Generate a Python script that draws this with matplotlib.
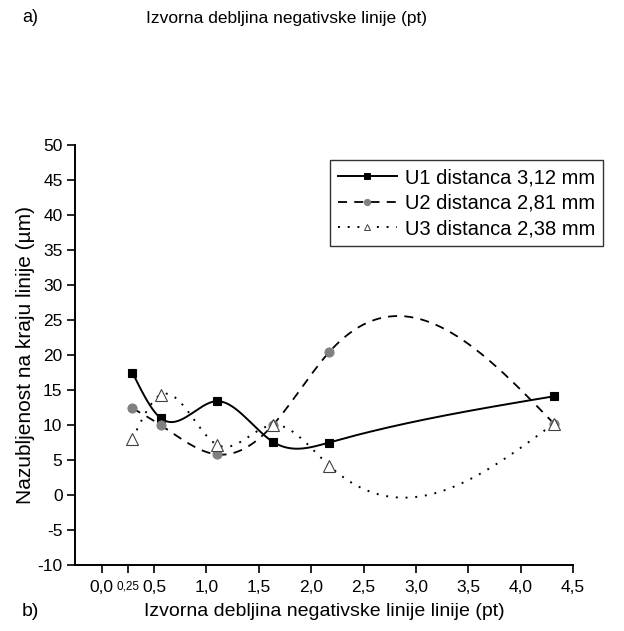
import numpy as np
import matplotlib
matplotlib.use("Agg")
import matplotlib.pyplot as plt

plt.rcParams['font.family'] = ['Liberation Sans', 'DejaVu Sans']

x_vals = [0.25, 0.5, 1.0, 1.5, 2.0, 4.0]
u1 = [17.5, 11.0, 13.4, 7.6, 7.5, 14.1]
u2 = [12.4, 10.0, 5.8, 10.0, 20.4, 10.2]
u3 = [8.0, 14.3, 7.2, 10.0, 4.2, 10.2]
labels = ["U1 distanca 3,12 mm", "U2 distanca 2,81 mm", "U3 distanca 2,38 mm"]
xticks = [0.0, 0.25, 0.5, 1.0, 1.5, 2.0, 2.5, 3.0, 3.5, 4.0, 4.5]
xticklabels = ["0,0", "0,25", "0,5", "1,0", "1,5", "2,0", "2,5", "3,0", "3,5", "4,0", "4,5"]
yticks = list(range(-10, 55, 5))


def natural_spline(x, y, n=400):
    x = np.asarray(x, float)
    y = np.asarray(y, float)
    m = len(x)
    h = np.diff(x)
    A = np.zeros((m, m))
    b = np.zeros(m)
    A[0, 0] = 1
    A[-1, -1] = 1
    for i in range(1, m - 1):
        A[i, i - 1] = h[i - 1]
        A[i, i] = 2 * (h[i - 1] + h[i])
        A[i, i + 1] = h[i]
        b[i] = 3 * ((y[i + 1] - y[i]) / h[i] - (y[i] - y[i - 1]) / h[i - 1])
    c = np.linalg.solve(A, b)
    xs = np.linspace(x[0], x[-1], n)
    ys = np.empty_like(xs)
    for k, xv in enumerate(xs):
        i = min(np.searchsorted(x, xv, side='right') - 1, m - 2)
        dx = xv - x[i]
        bi = (y[i + 1] - y[i]) / h[i] - h[i] * (2 * c[i] + c[i + 1]) / 3
        di = (c[i + 1] - c[i]) / (3 * h[i])
        ys[k] = y[i] + bi * dx + c[i] * dx ** 2 + di * dx ** 3
    return xs, ys


W, H = 624, 631
fig = plt.figure(figsize=(W / 100, H / 100), dpi=100)
rect = [75 / W, 1 - 565 / H, (573 - 75) / W, (565 - 145) / H]
ax = fig.add_axes(rect)
# data layer (the original plot's data layer is scaled slightly differently from its tick axis)
axd = fig.add_axes(rect, sharey=ax)
axd.set_axis_off()
axd.patch.set_visible(False)

styles = [
    dict(ls='-', lw=1.4, marker='s', mfc='black', mec='black', ms=6, color='black'),
    dict(ls=(0, (5, 4)), lw=1.3, marker='o', mfc='#808080', mec='#808080', ms=6.5, color='black'),
    dict(ls=(0, (1, 4)), lw=1.4, marker='^', mfc='white', mec='#404040', ms=8, color='black'),
]

for yv, st in zip([u1, u2, u3], styles):
    xs, ys = natural_spline(x_vals, yv)
    axd.plot(xs, ys, ls=st['ls'], lw=st['lw'], color=st['color'], zorder=2)
    axd.plot(x_vals, yv, ls='none', marker=st['marker'], mfc=st['mfc'], mec=st['mec'],
             ms=st['ms'], mew=0.8, zorder=3)

handles = []
for st, lab in zip(styles, labels):
    h, = axd.plot([], [], ls=st['ls'], lw=st['lw'], color=st['color'], marker=st['marker'],
                  mfc=st['mfc'], mec=st['mec'], ms=4.5, mew=0.7, label=lab)
    handles.append(h)
leg = axd.legend(handles=handles, loc='upper right', bbox_to_anchor=(603 / W, 1 - 160 / H),
                 bbox_transform=fig.transFigure,
                 fontsize=14.5, frameon=True, fancybox=False, edgecolor='black',
                 handlelength=2.9, borderpad=0.4, labelspacing=0.33, handletextpad=0.4,
                 borderaxespad=0)
leg.get_frame().set_linewidth(1.0)

axd.set_xlim((75 - 104.3) / 112.4, (573 - 104.3) / 112.4)
ax.set_xlim(-0.255, 4.5)
ax.set_ylim(-10, 50)
ax.spines['top'].set_visible(False)
ax.spines['right'].set_visible(False)
ax.spines['left'].set_linewidth(1.4)
ax.spines['bottom'].set_linewidth(1.4)
ax.set_xticks(xticks)
ax.set_xticklabels(xticklabels)
for t in ax.get_xticklabels():
    if t.get_text() == "0,25":
        t.set_fontsize(8.5)
    else:
        t.set_fontsize(12.5)
ax.set_yticks(yticks)
ax.set_yticklabels([str(v) for v in yticks], fontsize=12.5)
ax.tick_params(axis='x', direction='out', length=6, width=1.2, pad=5)
ax.tick_params(axis='y', direction='out', length=6, width=1.2, pad=3)

ax.set_ylabel("Nazubljenost na kraju linije (µm)", fontsize=15)
ax.yaxis.set_label_coords((35 - 75) / (573 - 75), 0.5)

fig.text(22 / W, 1 - 18 / H, "a)", fontsize=13, va='center', ha='left')
fig.text(287 / W, 1 - 18 / H, "Izvorna debljina negativske linije (pt)", fontsize=12.5,
         va='center', ha='center')
fig.text(22 / W, 1 - 612 / H, "b)", fontsize=14, va='center', ha='left')
fig.text(324 / W, 1 - 612 / H, "Izvorna debljina negativske linije linije (pt)",
         fontsize=14, va='center', ha='center')

fig.savefig("out.png", dpi=100)
